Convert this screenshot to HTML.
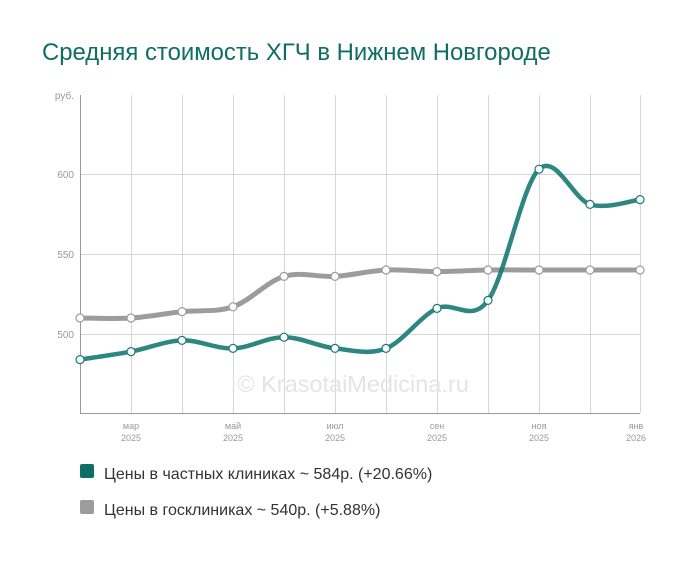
<!DOCTYPE html>
<html><head><meta charset="utf-8"><style>
body{margin:0;background:#fff;width:700px;height:557px;overflow:hidden;font-family:"Liberation Sans",sans-serif}
</style></head><body>
<svg id="s" width="700" height="557" xmlns="http://www.w3.org/2000/svg" font-family="Liberation Sans, sans-serif">
<text x="42" y="60" font-size="23.9" fill="#0f6e64">Средняя стоимость ХГЧ в Нижнем Новгороде</text>
<g stroke="#d6d6d6" stroke-width="1">
<line x1="80" y1="174.5" x2="640" y2="174.5"/><line x1="80" y1="254.5" x2="640" y2="254.5"/><line x1="80" y1="334.5" x2="640" y2="334.5"/>
<line x1="131.5" y1="95" x2="131.5" y2="413"/><line x1="182.5" y1="95" x2="182.5" y2="413"/><line x1="233.5" y1="95" x2="233.5" y2="413"/><line x1="284.5" y1="95" x2="284.5" y2="413"/><line x1="335.5" y1="95" x2="335.5" y2="413"/><line x1="386.5" y1="95" x2="386.5" y2="413"/><line x1="437.5" y1="95" x2="437.5" y2="413"/><line x1="488.5" y1="95" x2="488.5" y2="413"/><line x1="539.5" y1="95" x2="539.5" y2="413"/><line x1="590.5" y1="95" x2="590.5" y2="413"/><line x1="640.5" y1="95" x2="640.5" y2="413"/>
</g>
<line x1="80.5" y1="95" x2="80.5" y2="413" stroke="#999"/>
<line x1="80" y1="413.5" x2="640" y2="413.5" stroke="#999"/>
<g font-size="10" fill="#999" text-anchor="end">
<text x="74" y="99">руб.</text><text x="74" y="178">600</text><text x="74" y="258">550</text><text x="74" y="338">500</text>
</g>
<g font-size="9" fill="#999" text-anchor="middle">
<text x="131" y="419" dy="10">мар</text><text x="131" y="441">2025</text>
<text x="233" y="429">май</text><text x="233" y="441">2025</text>
<text x="335" y="429">июл</text><text x="335" y="441">2025</text>
<text x="437" y="429">сен</text><text x="437" y="441">2025</text>
<text x="539" y="429">ноя</text><text x="539" y="441">2025</text>
<text x="636" y="429">янв</text><text x="636" y="441">2026</text>
</g>
<text x="353" y="392" font-size="23.5" fill="#e4e4e4" text-anchor="middle">© KrasotaiMedicina.ru</text>
<path id="pg" fill="none" stroke="#9c9c9c" stroke-width="5"/>
<path id="pgr" fill="none" stroke="#167a72" stroke-width="4.5" stroke-opacity="0.9"/>
<g id="dots"></g>
<rect x="80" y="464" width="14" height="14" rx="2" fill="#0f6e64"/>
<text x="104" y="479" font-size="16" fill="#333">Цены в частных клиниках ~ 584р. (+20.66%)</text>
<rect x="80" y="500" width="14" height="14" rx="2" fill="#9c9c9c"/>
<text x="104" y="515" font-size="16" fill="#333">Цены в госклиниках ~ 540р. (+5.88%)</text>
</svg>
<script>
var X=[80,131,182,233,284,335,386,437,488,539,590,640];
var G=[484,489,496,491,498,491,491,516,521,603,581,584];
var R=[510,510,514,517,536,536,540,539,540,540,540,540];
function y(v){return 334-(v-500)*1.6;}
function path(V){var p=V.map(function(v,i){return[X[i],y(v)]});var d="M"+p[0][0]+","+p[0][1];
for(var i=0;i<p.length-1;i++){var p0=p[i-1]||p[i],p1=p[i],p2=p[i+1],p3=p[i+2]||p2;var t=6;
d+=" C"+(p1[0]+(p2[0]-p0[0])/t)+","+(p1[1]+(p2[1]-p0[1])/t)+" "+(p2[0]-(p3[0]-p1[0])/t)+","+(p2[1]-(p3[1]-p1[1])/t)+" "+p2[0]+","+p2[1];}return d;}
document.getElementById("pg").setAttribute("d",path(R));
document.getElementById("pgr").setAttribute("d",path(G));
var g=document.getElementById("dots"),h="";
R.forEach(function(v,i){h+='<circle cx="'+X[i]+'" cy="'+y(v)+'" r="4" fill="#fff" stroke="#9c9c9c" stroke-width="1.2"/>';});
G.forEach(function(v,i){h+='<circle cx="'+X[i]+'" cy="'+y(v)+'" r="4" fill="#fff" stroke="#167a72" stroke-width="1.2"/>';});
g.innerHTML=h;
</script>
</body></html>
